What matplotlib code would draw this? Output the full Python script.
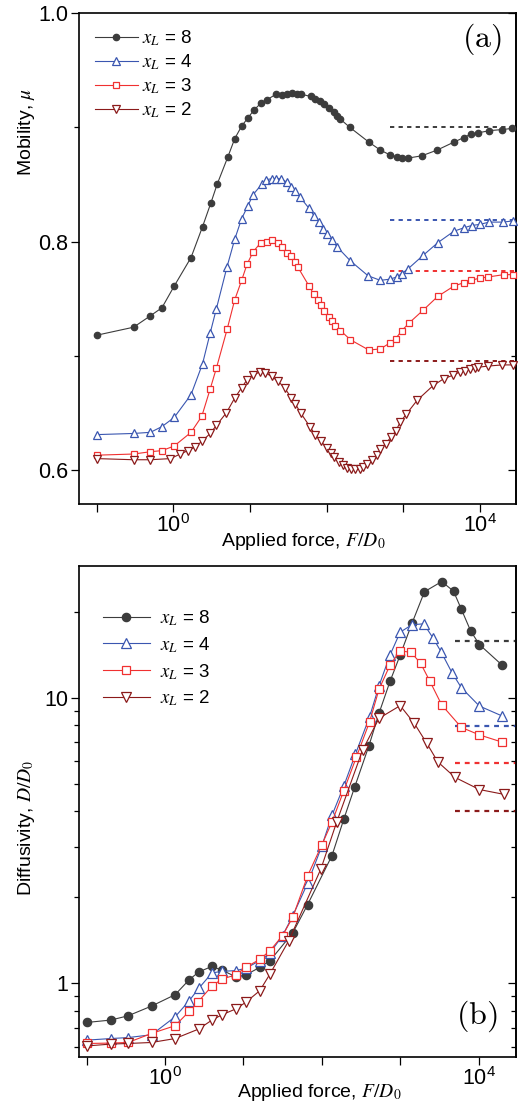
import numpy as np
import matplotlib
matplotlib.use('Agg')
import matplotlib.pyplot as plt
from matplotlib.ticker import FixedLocator, FixedFormatter, NullLocator, NullFormatter

plt.rcParams['font.family'] = ['Liberation Sans', 'DejaVu Sans']
plt.rcParams['mathtext.fontset'] = 'stix'

# ---------------- data: panel (a) mobility ----------------
labels = [r'$x_L$ = 8', r'$x_L$ = 4', r'$x_L$ = 3', r'$x_L$ = 2']

a8_logF = [-1.00, -0.52, -0.30, -0.15, 0.01, 0.23, 0.38, 0.49, 0.57, 0.71, 0.80, 0.89, 0.97, 1.05, 1.14,
           1.22, 1.34, 1.42, 1.48, 1.55, 1.61, 1.66, 1.79, 1.85, 1.91, 1.97, 2.03, 2.09, 2.14, 2.18, 2.30,
           2.55, 2.70, 2.82, 2.92, 2.98, 3.06, 3.24, 3.44, 3.66, 3.79, 3.88, 3.97, 4.12, 4.29, 4.42]
a8_mu = [0.718, 0.725, 0.735, 0.742, 0.761, 0.786, 0.813, 0.834, 0.850, 0.874, 0.890, 0.901, 0.908, 0.915, 0.921,
         0.924, 0.929, 0.928, 0.929, 0.930, 0.929, 0.929, 0.927, 0.925, 0.923, 0.920, 0.917, 0.913, 0.910, 0.907, 0.900,
         0.887, 0.880, 0.876, 0.874, 0.873, 0.873, 0.875, 0.880, 0.887, 0.891, 0.894, 0.895, 0.897, 0.898, 0.899]

a4_logF = [-1.00, -0.52, -0.30, -0.15, 0.01, 0.23, 0.38, 0.48, 0.56, 0.70, 0.80, 0.89, 0.97, 1.04, 1.15,
           1.21, 1.28, 1.34, 1.40, 1.48, 1.54, 1.59, 1.65, 1.77, 1.84, 1.90, 1.95, 2.01, 2.07, 2.14, 2.31,
           2.54, 2.70, 2.82, 2.92, 2.98, 3.06, 3.26, 3.45, 3.66, 3.79, 3.89, 4.00, 4.12, 4.30, 4.43]
a4_mu = [0.631, 0.632, 0.633, 0.638, 0.646, 0.666, 0.693, 0.720, 0.741, 0.778, 0.802, 0.820, 0.831, 0.841, 0.850,
         0.854, 0.855, 0.855, 0.855, 0.852, 0.848, 0.844, 0.839, 0.829, 0.822, 0.817, 0.811, 0.807, 0.801, 0.795, 0.783,
         0.770, 0.766, 0.767, 0.769, 0.772, 0.776, 0.788, 0.799, 0.809, 0.812, 0.814, 0.815, 0.817, 0.817, 0.818]

a3_logF = [-1.00, -0.52, -0.30, -0.15, 0.01, 0.23, 0.37, 0.48, 0.56, 0.70, 0.80, 0.89, 0.96, 1.04, 1.14,
           1.22, 1.29, 1.36, 1.42, 1.48, 1.53, 1.59, 1.62, 1.77, 1.83, 1.88, 1.93, 1.97, 2.03, 2.07, 2.11, 2.18,
           2.31, 2.55, 2.70, 2.82, 2.90, 2.98, 3.08, 3.26, 3.45, 3.66, 3.79, 3.88, 4.00, 4.11, 4.31, 4.43]
a3_mu = [0.613, 0.614, 0.616, 0.617, 0.621, 0.633, 0.647, 0.671, 0.689, 0.723, 0.749, 0.766, 0.780, 0.791, 0.799,
         0.800, 0.801, 0.799, 0.795, 0.790, 0.787, 0.782, 0.778, 0.761, 0.754, 0.749, 0.744, 0.739, 0.734, 0.730, 0.726, 0.722,
         0.714, 0.705, 0.706, 0.711, 0.715, 0.722, 0.729, 0.740, 0.752, 0.761, 0.764, 0.766, 0.768, 0.769, 0.771, 0.771]

a2_logF = [-1.00, -0.52, -0.30, -0.04, 0.09, 0.19, 0.28, 0.37, 0.48, 0.56, 0.69, 0.80, 0.89, 0.96, 1.04,
           1.13, 1.20, 1.28, 1.36, 1.45, 1.54, 1.59, 1.66, 1.78, 1.85, 1.93, 2.00, 2.05, 2.10, 2.16, 2.21,
           2.27, 2.32, 2.37, 2.43, 2.48, 2.53, 2.59, 2.65, 2.70, 2.77, 2.84, 2.90, 2.96, 3.04, 3.18, 3.39,
           3.53, 3.65, 3.74, 3.81, 3.87, 3.94, 3.98, 4.11, 4.29, 4.43]
a2_mu = [0.610, 0.609, 0.609, 0.610, 0.614, 0.617, 0.620, 0.625, 0.632, 0.639, 0.650, 0.663, 0.672, 0.679, 0.683,
         0.686, 0.685, 0.682, 0.678, 0.672, 0.663, 0.658, 0.650, 0.638, 0.631, 0.625, 0.619, 0.615, 0.611, 0.607, 0.604,
         0.602, 0.601, 0.601, 0.601, 0.603, 0.605, 0.609, 0.613, 0.618, 0.623, 0.629, 0.634, 0.642, 0.649, 0.661, 0.674,
         0.680, 0.683, 0.686, 0.687, 0.688, 0.689, 0.690, 0.691, 0.692, 0.692]

mu_limit = [0.900, 0.819, 0.7745, 0.6957]
mu_limit_start = 10 ** 2.83

# ---------------- data: panel (b) diffusivity ----------------
b8_logF = [-0.99, -0.69, -0.47, -0.17, 0.13, 0.31, 0.43, 0.60, 0.73, 0.90, 1.03, 1.21, 1.34, 1.63, 1.82,
           2.13, 2.28, 2.42, 2.60, 2.73, 2.87, 3.00, 3.15, 3.31, 3.53, 3.68, 3.78, 3.90, 4.01, 4.30]
b8_D = [0.730, 0.744, 0.770, 0.833, 0.913, 1.030, 1.096, 1.147, 1.111, 1.056, 1.070, 1.138, 1.201, 1.502, 1.888,
        2.80, 3.75, 4.87, 6.77, 8.82, 11.4, 14.1, 18.2, 23.5, 25.5, 23.6, 20.4, 17.1, 15.35, 13.0]

b4_logF = [-0.99, -0.69, -0.47, -0.17, 0.13, 0.31, 0.43, 0.60, 0.73, 0.90, 1.03, 1.21, 1.34, 1.50, 1.63, 1.82,
           2.00, 2.13, 2.28, 2.43, 2.61, 2.73, 2.87, 3.00, 3.15, 3.30, 3.42, 3.52, 3.66, 3.78, 4.01, 4.30]
b4_D = [0.633, 0.641, 0.646, 0.661, 0.764, 0.870, 0.960, 1.088, 1.102, 1.108, 1.129, 1.201, 1.278, 1.470, 1.724, 2.244,
        3.02, 3.87, 4.90, 6.35, 8.58, 11.0, 14.1, 16.96, 18.0, 18.14, 16.16, 14.5, 12.24, 10.84, 9.35, 8.63]

b3_logF = [-0.99, -0.69, -0.47, -0.17, 0.13, 0.31, 0.42, 0.60, 0.73, 0.90, 1.03, 1.21, 1.34, 1.50, 1.63, 1.82,
           2.00, 2.13, 2.28, 2.44, 2.61, 2.73, 2.87, 3.00, 3.14, 3.26, 3.38, 3.53, 3.78, 4.01, 4.30]
b3_D = [0.616, 0.618, 0.621, 0.668, 0.711, 0.798, 0.860, 0.979, 1.036, 1.070, 1.138, 1.214, 1.302, 1.470, 1.704, 2.381,
        3.05, 3.67, 4.72, 6.18, 8.24, 10.7, 13.0, 14.6, 14.4, 13.2, 11.4, 9.43, 7.87, 7.41, 6.99]

b2_logF = [-0.99, -0.69, -0.47, -0.17, 0.13, 0.43, 0.60, 0.73, 0.90, 1.03, 1.21, 1.34, 1.58, 1.99, 2.19,
           2.52, 2.73, 3.00, 3.18, 3.34, 3.48, 3.70, 4.01, 4.32]
b2_D = [0.604, 0.613, 0.616, 0.621, 0.641, 0.692, 0.744, 0.777, 0.813, 0.858, 0.943, 1.079, 1.412, 2.52, 3.67,
        6.55, 8.47, 9.38, 8.13, 6.92, 5.96, 5.26, 4.77, 4.59]

D_limit = [15.85, 7.98, 5.93, 4.01]
D_limit_start = 10 ** 3.70

# ---------------- styles ----------------
colors = ['#3c3c3c', '#3a56b0', '#f03030', '#8b1a1a']
markers = ['o', '^', 's', 'v']
fills = ['#3c3c3c', 'white', 'white', 'white']
ms_top = [4.6, 5.4, 4.6, 5.4]
ms_bot = [6.0, 6.8, 5.8, 6.8]

W, H = 527, 1106
fig = plt.figure(figsize=(W / 100, H / 100), dpi=100)
ax1 = fig.add_axes([79 / W, (H - 503.5) / H, 437 / W, 490.5 / H])
ax2 = fig.add_axes([79 / W, (H - 1056.5) / H, 437 / W, 490.5 / H])

top_series = [(a8_logF, a8_mu), (a4_logF, a4_mu), (a3_logF, a3_mu), (a2_logF, a2_mu)]
bot_series = [(b8_logF, b8_D), (b4_logF, b4_D), (b3_logF, b3_D), (b2_logF, b2_D)]

xmax_top = 10 ** 4.47
xmax_bot = 10 ** 4.477

for i in range(4):
    ax1.plot([mu_limit_start, xmax_top], [mu_limit[i]] * 2, ls=(0, (2.2, 2.2)), lw=1.4,
             color=colors[i], zorder=2)
    ax2.plot([D_limit_start, xmax_bot], [D_limit[i]] * 2, ls=(0, (2.2, 2.2)), lw=1.6,
             color=colors[i], zorder=2)

for i, (lf, y) in enumerate(top_series):
    ax1.plot(10 ** np.array(lf), y, color=colors[i], lw=0.8, marker=markers[i], ms=ms_top[i],
             mfc=fills[i], mec=colors[i], mew=0.9, label=labels[i], zorder=3 + i * 0.1,
             clip_on=False)
for i, (lf, y) in enumerate(bot_series):
    ax2.plot(10 ** np.array(lf), y, color=colors[i], lw=0.8, marker=markers[i], ms=ms_bot[i],
             mfc=fills[i], mec=colors[i], mew=0.9, label=labels[i], zorder=3 + i * 0.1,
             clip_on=False)

# axes ranges
ax1.set_xscale('log')
ax1.set_xlim(10 ** -1.232, xmax_top)
ax1.set_ylim(0.5707, 1.0)
ax2.set_xscale('log')
ax2.set_yscale('log')
ax2.set_xlim(10 ** -1.096, xmax_bot)
ax2.set_ylim(10 ** -0.256, 10 ** 1.461)

xt = [10.0 ** k for k in range(-1, 5)]
xtl = ['', r'$\mathregular{10^{0}}$', '', '', '', r'$\mathregular{10^{4}}$']
for ax in (ax1, ax2):
    ax.xaxis.set_major_locator(FixedLocator(xt))
    ax.xaxis.set_major_formatter(FixedFormatter(xtl))
    ax.xaxis.set_minor_locator(NullLocator())
    ax.tick_params(axis='x', which='both', direction='out', length=5.5, width=0.9,
                   labelsize=15.5, pad=2, top=False)
    ax.tick_params(axis='y', which='major', direction='out', length=6, width=0.9,
                   labelsize=15.5, pad=2, right=False)
    ax.tick_params(axis='y', which='minor', direction='out', length=3.5, width=0.9, right=False)
    for s in ax.spines.values():
        s.set_linewidth(1.2)

ax1.yaxis.set_major_locator(FixedLocator([0.6, 0.8, 1.0]))
ax1.yaxis.set_major_formatter(FixedFormatter(['0.6', '0.8', '1.0']))
ax1.yaxis.set_minor_locator(FixedLocator([0.7, 0.9]))
ax1.yaxis.set_minor_formatter(NullFormatter())

ax2.yaxis.set_major_locator(FixedLocator([1.0, 10.0]))
ax2.yaxis.set_major_formatter(FixedFormatter(['1', '10']))
ax2.yaxis.set_minor_locator(FixedLocator([0.6, 0.7, 0.8, 0.9, 2, 3, 4, 5, 6, 7, 8, 9, 20]))
ax2.yaxis.set_minor_formatter(NullFormatter())

# right-hand inward ticks
for ax, maj, mnr in ((ax1, [0.6, 0.8, 1.0], [0.7, 0.9]),
                     (ax2, [1.0, 10.0], [0.6, 0.7, 0.8, 0.9, 2, 3, 4, 5, 6, 7, 8, 9, 20])):
    sec = ax.secondary_yaxis('right')
    sec.yaxis.set_major_locator(FixedLocator(maj))
    sec.yaxis.set_minor_locator(FixedLocator(mnr))
    sec.yaxis.set_major_formatter(NullFormatter())
    sec.yaxis.set_minor_formatter(NullFormatter())
    sec.tick_params(axis='y', which='major', direction='in', length=6, width=0.9)
    sec.tick_params(axis='y', which='minor', direction='in', length=3.5, width=0.9)
    sec.spines['right'].set_linewidth(1.2)

# labels
ax1.set_xlabel('Applied force, $F/D_0$', fontsize=14)
ax1.xaxis.set_label_coords(0.513, -0.056)
ax1.set_ylabel(r'Mobility, $\mu$', fontsize=14)
ax1.yaxis.set_label_coords(-0.095, 0.757)

ax2.set_xlabel('Applied force, $F/D_0$', fontsize=14)
ax2.xaxis.set_label_coords(0.549, -0.052)
ax2.set_ylabel('Diffusivity, $D/D_0$', fontsize=14)
ax2.yaxis.set_label_coords(-0.095, 0.466)

ax1.text(0.922, 0.947, r'$\mathrm{(a)}$', transform=ax1.transAxes, fontsize=23,
         ha='center', va='center', math_fontfamily='cm')
ax2.text(0.911, 0.0826, r'$\mathrm{(b)}$', transform=ax2.transAxes, fontsize=23,
         ha='center', va='center', math_fontfamily='cm')

ax1.legend(loc='upper left', bbox_to_anchor=(0.036, 0.968), frameon=False, fontsize=13.5,
           handlelength=2.3, handletextpad=0.2, labelspacing=0.22, borderaxespad=0, borderpad=0)
ax2.legend(loc='upper left', bbox_to_anchor=(0.055, 0.914), frameon=False, fontsize=13.5,
           handlelength=2.5, handletextpad=0.55, labelspacing=0.38, borderaxespad=0, borderpad=0)

fig.savefig('out.png', dpi=100)
